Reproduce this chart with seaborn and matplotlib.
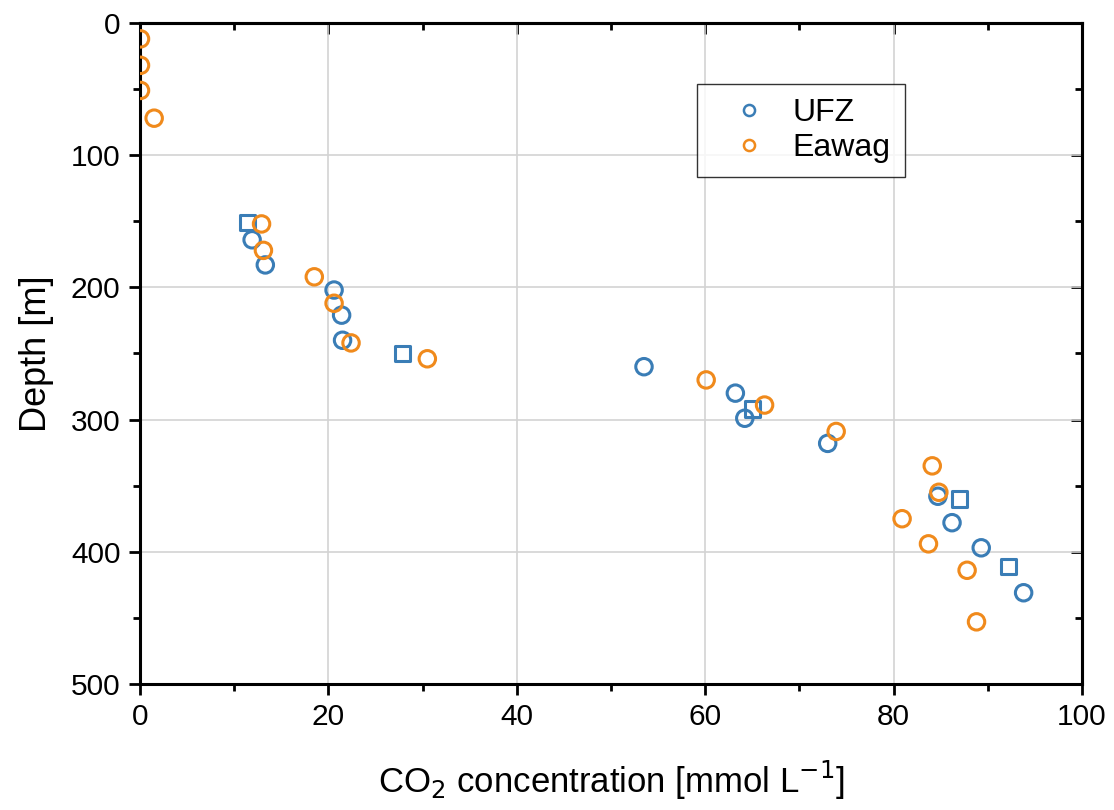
import matplotlib
matplotlib.use("Agg")
import matplotlib.pyplot as plt
import seaborn as sns
import pandas as pd
from matplotlib.ticker import MultipleLocator
from matplotlib.lines import Line2D

# ---- data ----
ufz_co2 = [11.9, 13.3, 20.6, 21.4, 21.5, 53.5, 63.2, 64.2, 73.0, 84.7, 86.2, 89.3, 93.8]
ufz_depth = [164, 183, 202, 221, 240, 260, 280, 299, 318, 358, 378, 397, 431]
ufz_sq_co2 = [11.4, 27.9, 65.0, 87.0, 92.2]
ufz_sq_depth = [151, 250, 292, 360, 411]
eawag_co2 = [0.05, 0.05, 0.05, 1.5, 12.9, 13.1, 18.5, 20.6, 22.4, 30.5, 60.1, 66.3,
             73.9, 84.1, 84.8, 80.9, 83.7, 87.8, 88.8]
eawag_depth = [12, 32, 51, 72, 152, 172, 192, 212, 242, 254, 270, 289,
               309, 335, 355, 375, 394, 414, 453]
series_names = ["UFZ", "Eawag"]
colors = ["#3A7DB6", "#F08A1C"]

df = pd.DataFrame({
    "co2": ufz_co2 + eawag_co2,
    "depth": ufz_depth + eawag_depth,
    "src": [series_names[0]] * len(ufz_co2) + [series_names[1]] * len(eawag_co2),
})
df_sq = pd.DataFrame({"co2": ufz_sq_co2, "depth": ufz_sq_depth})

sns.set_theme(style="white")
plt.rcParams["font.family"] = ["Liberation Sans", "DejaVu Sans"]
plt.rcParams["text.color"] = "black"
plt.rcParams["axes.labelcolor"] = "black"
plt.rcParams["xtick.color"] = "black"
plt.rcParams["ytick.color"] = "black"

fig = plt.figure(figsize=(11.14, 8.10), dpi=100)
ax = fig.add_axes([0.1257, 0.1556, 0.9713 - 0.1257, 0.9716 - 0.1556])

pal = dict(zip(series_names, colors))
sns.scatterplot(data=df_sq, x="co2", y="depth", ax=ax, marker="s", s=120,
                facecolor="none", edgecolor=colors[0], linewidth=2.2, legend=False, zorder=3)
sns.scatterplot(data=df, x="co2", y="depth", hue="src", palette=pal, ax=ax,
                marker="o", s=140, linewidth=2.2, zorder=4, legend=False)
# make circles hollow
for coll in ax.collections[1:]:
    fc = coll.get_facecolors()
    coll.set_edgecolors(fc)
    coll.set_facecolors("none")

ax.set_xlim(0, 100)
ax.set_ylim(500, 0)
ax.xaxis.set_major_locator(MultipleLocator(20))
ax.xaxis.set_minor_locator(MultipleLocator(10))
ax.yaxis.set_major_locator(MultipleLocator(100))
ax.yaxis.set_minor_locator(MultipleLocator(50))
ax.grid(True, which="major", color="#d3d3d3", linewidth=1.2)
ax.set_axisbelow(True)

for sp in ax.spines.values():
    sp.set_linewidth(2.2)
    sp.set_color("black")

ax.tick_params(which="major", direction="out", length=8, width=2.0, labelsize=21.5,
               colors="black", pad=6)
ax.tick_params(which="minor", direction="out", length=5, width=2.0)
ax.tick_params(which="both", bottom=True, left=True)

# top / right inward ticks
secx = ax.secondary_xaxis("top")
secx.xaxis.set_major_locator(MultipleLocator(20))
secx.xaxis.set_minor_locator(MultipleLocator(10))
secx.tick_params(which="major", direction="in", length=8, width=2.0, labeltop=False)
secx.tick_params(which="minor", direction="in", length=5, width=2.0)
secx.spines["top"].set_linewidth(2.2)
secy = ax.secondary_yaxis("right")
secy.yaxis.set_major_locator(MultipleLocator(100))
secy.yaxis.set_minor_locator(MultipleLocator(50))
secy.tick_params(which="major", direction="in", length=8, width=2.0, labelright=False)
secy.tick_params(which="minor", direction="in", length=5, width=2.0)
secy.spines["right"].set_linewidth(2.2)

ax.set_xlabel("CO$_2$ concentration [mmol L$^{-1}$]", fontsize=25, labelpad=20)
ax.set_ylabel("Depth [m]", fontsize=26, labelpad=12)

handles = [Line2D([], [], marker="o", linestyle="none", markerfacecolor="none",
                  markeredgecolor=c, markeredgewidth=1.8, markersize=8) for c in colors]
leg = ax.legend(handles, series_names, loc="upper right", bbox_to_anchor=(0.812, 0.908),
                borderaxespad=0, fontsize=23, frameon=True, fancybox=False,
                edgecolor="black", handletextpad=0.15, borderpad=0.45, labelspacing=0.15,
                handlelength=2.4)
leg.get_frame().set_linewidth(1.0)
leg.set_zorder(10)

fig.savefig("out.png", dpi=100)
